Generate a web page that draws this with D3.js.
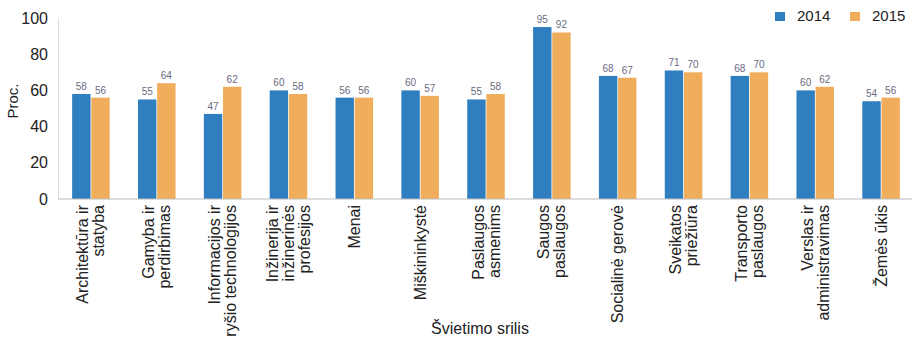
<!DOCTYPE html>
<html>
<head>
<meta charset="utf-8">
<script src="https://cdn.jsdelivr.net/npm/d3@7"></script>
<style>
  body { margin: 0; background: #fff; }
  svg { font-family: "Liberation Sans", Arial, sans-serif; }
</style>
</head>
<body>
<svg id="chart"></svg>
<script>
const categories = [
  ["Architektūra ir", "statyba"],
  ["Gamyba ir", "perdirbimas"],
  ["Informacijos ir", "ryšio technologijos"],
  ["Inžinerija ir", "inžinerinės", "profesijos"],
  ["Menai"],
  ["Miškininkystė"],
  ["Paslaugos", "asmenims"],
  ["Saugos", "paslaugos"],
  ["Socialinė gerovė"],
  ["Sveikatos", "priežiūra"],
  ["Transporto", "paslaugos"],
  ["Verslas ir", "administravimas"],
  ["Žemės ūkis"]
];
const series = ["2014", "2015"];
const values2014 = [58, 55, 47, 60, 56, 60, 55, 95, 68, 71, 68, 60, 54];
const values2015 = [56, 64, 62, 58, 56, 57, 58, 92, 67, 70, 70, 62, 56];
const yTicks = [0, 20, 40, 60, 80, 100];
const colors = ["#2f7ebf", "#f0ae5c"];

let w = 912, h = 345;
let svg = d3.select("#chart").attr("width", w).attr("height", h);

let keys = categories.map(c => c.join(" "));
let x = d3.scaleBand().domain(keys).range([58, 914]).paddingInner(0.43).paddingOuter(0.215);
let xs = d3.scaleBand().domain(series).range([0, x.bandwidth()]).paddingInner(0.04);
let y = d3.scaleLinear().domain([0, 100]).range([199, 18]);

// y axis
let yAxis = svg.append("g")
  .attr("transform", "translate(58,0)")
  .call(d3.axisLeft(y).tickValues(yTicks).tickSize(0).tickPadding(10));
yAxis.select(".domain").attr("stroke", "#ddd");
yAxis.selectAll("text").attr("font-size", 16).attr("fill", "#222");

svg.append("text")
  .attr("transform", "translate(18,101) rotate(-90)")
  .attr("text-anchor", "middle")
  .attr("font-size", 15)
  .attr("fill", "#222")
  .text("Proc.");

// bars
let rows = keys.map((k, i) => ({ key: k, vals: [values2014[i], values2015[i]] }));
let groups = svg.append("g").selectAll("g")
  .data(rows)
  .enter()
  .append("g")
  .attr("transform", d => `translate(${x(d.key)},0)`);

groups.selectAll("rect")
  .data(d => d.vals.map((v, j) => ({ s: series[j], v: v, j: j })))
  .enter()
  .append("rect")
  .attr("x", d => xs(d.s))
  .attr("y", d => y(d.v))
  .attr("width", xs.bandwidth())
  .attr("height", d => y(0) - y(d.v))
  .attr("fill", d => colors[d.j]);

groups.selectAll("text.val")
  .data(d => d.vals.map((v, j) => ({ s: series[j], v: v })))
  .enter()
  .append("text")
  .attr("class", "val")
  .attr("x", d => xs(d.s) + xs.bandwidth() / 2)
  .attr("y", d => y(d.v) - 4)
  .attr("text-anchor", "middle")
  .attr("font-size", 10)
  .attr("fill", "#6a6a80")
  .text(d => d.v);

// baseline
svg.append("line")
  .attr("x1", 58).attr("x2", 912)
  .attr("y1", y(0)).attr("y2", y(0))
  .attr("stroke", "#bbb");

// x labels, rotated, multi-line
let lineH = 16;
categories.forEach((lines, i) => {
  let cx = x(keys[i]) + x.bandwidth() / 2;
  let t = svg.append("text")
    .attr("transform", `translate(${cx},205) rotate(-90)`)
    .attr("text-anchor", "end")
    .attr("font-size", 16)
    .attr("fill", "#222");
  lines.forEach((l, k) => {
    t.append("tspan")
      .attr("x", 0)
      .attr("y", (k - (lines.length - 1) / 2) * lineH + 5.5)
      .text(l);
  });
});

svg.append("text")
  .attr("x", 480).attr("y", 334)
  .attr("text-anchor", "middle")
  .attr("font-size", 16)
  .attr("fill", "#222")
  .text("Švietimo srilis");

// legend
let legend = svg.append("g");
series.forEach((s, i) => {
  let lx = 775 + i * 75;
  legend.append("rect")
    .attr("x", lx).attr("y", 12)
    .attr("width", 10).attr("height", 9)
    .attr("fill", colors[i]);
  legend.append("text")
    .attr("x", lx + 22).attr("y", 21)
    .attr("font-size", 15)
    .attr("fill", "#222")
    .text(s);
});
</script>
</body>
</html>
